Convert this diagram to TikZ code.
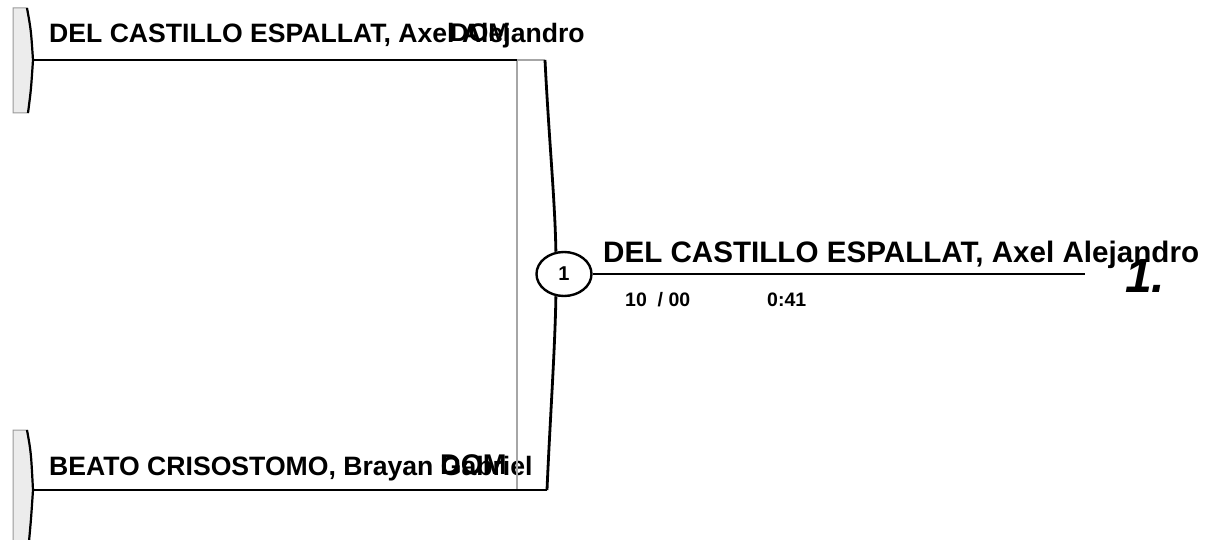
\documentclass[tikz,border=0pt]{standalone}
\usepackage{fontspec}
\setmainfont{Liberation Sans}
\usepackage{tikz}
\usepackage{xcolor}
\usetikzlibrary{shapes,arrows}
\tikzstyle{player} = [anchor=base west, inner sep=0pt,
font=\bfseries\fontsize{26.6}{30}\selectfont]
\tikzstyle{ctry} = [anchor=base west, inner sep=0pt,
font=\bfseries\fontsize{25.5}{30}\selectfont]
\tikzstyle{result} = [anchor=base west, inner sep=0pt,
font=\bfseries\fontsize{19.5}{23}\selectfont]
\tikzstyle{match} = [ellipse, draw, line width=2.4pt, fill=white,
minimum width=55, minimum height=44, inner sep=0pt,
font=\bfseries\fontsize{20}{22}\selectfont]
\tikzstyle{line} = [draw, line width=2.8pt, line join=round]
\tikzstyle{guide} = [draw, gray!70, line width=1.3pt]
\tikzstyle{endcap} = [fill=gray!15, draw=gray!80, line width=1pt]

\begin{document}
\begin{tikzpicture}[x=1pt, y=-1pt]
        \useasboundingbox (0,0) rectangle (1208,540);

        % player caps
        \path [endcap] (13,8) -- (27,8) .. controls (31,30) .. (33,60)
              .. controls (31,90) .. (28,113) -- (13,113) -- cycle;
        \path [line, line width=2.2pt] (27,8) .. controls (31,30) .. (33,60)
              .. controls (31,90) .. (28,113);
        \path [endcap] (13,430) -- (27,430) .. controls (31,452) .. (33,490)
              .. controls (31,520) .. (28,552) -- (13,552) -- cycle;
        \path [line, line width=2.2pt] (27,430) .. controls (31,452) .. (33,490)
              .. controls (31,520) .. (28,552);

        \coordinate (p1) at (33,60);
        \coordinate (p1e) at (517,60);
        \coordinate (p1r) at (545,60);
        \coordinate (p2) at (33,490);
        \coordinate (p2g) at (517,490);
        \coordinate (p2e) at (547,490);
        \coordinate (win) at (1085,274);

        \node [match] (m1) at (564,274) {1};

        \node [player] (p1name) at (49,43) {DEL CASTILLO ESPALLAT, Axel Alejandro};
        \node [ctry] (p1ctry) at (450,42) {DOM};
        \node [player] (p2name) at (49,475) {BEATO CRISOSTOMO, Brayan Gabriel};
        \node [ctry, font=\bfseries\fontsize{28.5}{32}\selectfont] (p2ctry) at (440,474) {DOM};
        \node [player, font=\bfseries\fontsize{29.6}{34}\selectfont] (winname) at (603,263) {DEL CASTILLO ESPALLAT, Axel Alejandro};
        \node [result] (res) at (625,306) {10\ \ / 00};
        \node [result] (time) at (767,306) {0:41};
        \node [anchor=base west, inner sep=0pt,
               font=\bfseries\itshape\fontsize{48}{52}\selectfont] (rank) at (1125,293) {1.};

        \path [guide] (p1e) -- (p2g);
        \path [guide] (p1e) -- (p1r);
        \path [line] (p1) -- (p1e);
        \path [line] (p1r) .. controls (549,140) and (555,200) .. (m1.110);
        \path [line] (m1.250) .. controls (555,350) and (550,420) .. (p2e);
        \path [line] (p2) -- (p2e);
        \path [line] (m1.east) -- (win);
      \end{tikzpicture}
\end{document}
